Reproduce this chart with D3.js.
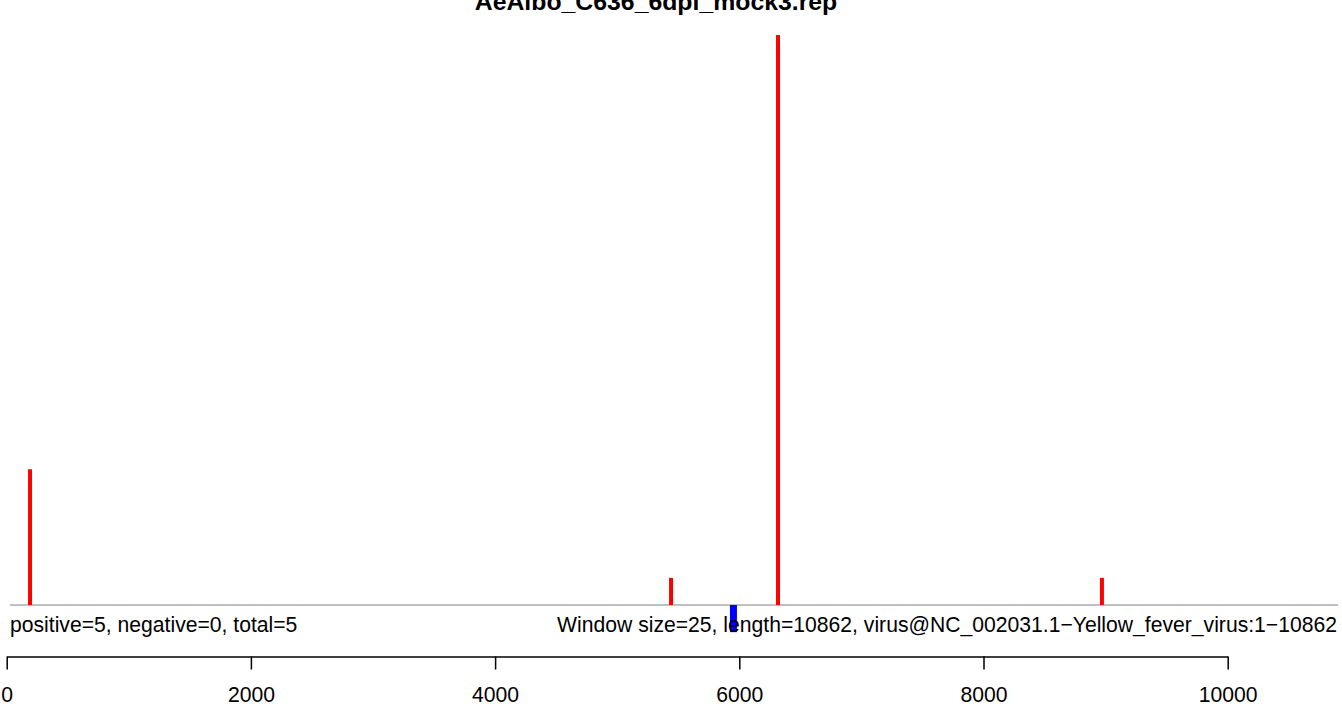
<!DOCTYPE html>
<html><head><meta charset="utf-8">
<script src="https://cdn.jsdelivr.net/npm/d3@7"></script>
<style>html,body{margin:0;padding:0;background:#fff;}svg{display:block;}</style>
</head><body>
<script>
const title = "AeAlbo_C636_6dpi_mock3.rep";
const positivePositions = [191, 5441, 6317, 8970];
const positiveCounts = [5, 1, 21, 1];
const negativePositions = [5952];
const negativeCounts = [1];
const xTicks = [0, 2000, 4000, 6000, 8000, 10000];
const leftNote = "positive=5, negative=0, total=5";
const rightNote = "Window size=25, length=10862, virus@NC_002031.1\u2212Yellow_fever_virus:1\u221210862";

const W = 1342, H = 704;
const svg = d3.select("body").append("svg").attr("width", W).attr("height", H);
const font = "'Liberation Sans', Arial, sans-serif";
const fs = 21.15;

const x = d3.scaleLinear().domain([0, 10000]).range([6.7, 1227.7]);
const y = d3.scaleLinear().domain([0, 21]).range([605, 35]);

// title
svg.append("text").attr("x", 656).attr("y", 10).attr("text-anchor", "middle")
  .attr("font-family", font).attr("font-weight", "bold").attr("font-size", 24.8)
  .attr("fill", "#000").text(title);

// baseline
svg.append("line").attr("x1", 10).attr("x2", 1338).attr("y1", y(0)).attr("y2", y(0))
  .attr("stroke", "#808080").attr("stroke-width", 1);

// positive bars
svg.selectAll("line.pos").data(positivePositions).enter().append("line")
  .attr("class", "pos")
  .attr("x1", d => x(d)).attr("x2", d => x(d))
  .attr("y1", y(0)).attr("y2", (d, i) => y(positiveCounts[i]))
  .attr("stroke", "#ff0000").attr("stroke-width", 4);

// negative bars
svg.selectAll("line.neg").data(negativePositions).enter().append("line")
  .attr("class", "neg")
  .attr("x1", d => x(d)).attr("x2", d => x(d))
  .attr("y1", y(0)).attr("y2", (d, i) => y(-negativeCounts[i]))
  .attr("stroke", "#0000ff").attr("stroke-width", 7);

// notes
svg.append("text").attr("x", 10).attr("y", 632.3).attr("font-family", font)
  .attr("font-size", fs).attr("fill", "#000").text(leftNote);
svg.append("text").attr("x", 1337).attr("y", 632.3).attr("text-anchor", "end")
  .attr("font-family", font).attr("font-size", fs).attr("fill", "#000").text(rightNote);

// axis
const axis = d3.axisBottom(x).tickValues(xTicks).tickSize(13).tickSizeOuter(0)
  .tickFormat(d3.format("d"));
const g = svg.append("g").attr("transform", "translate(0,656.5)").call(axis);
g.select(".domain").attr("stroke", "#000").attr("stroke-width", 1.5);
g.selectAll(".tick line").attr("stroke", "#000").attr("stroke-width", 1.5);
g.selectAll(".tick text").attr("font-family", font).attr("font-size", fs).attr("fill", "#000")
  .attr("y", 45).attr("dy", null);
</script>
</body></html>
